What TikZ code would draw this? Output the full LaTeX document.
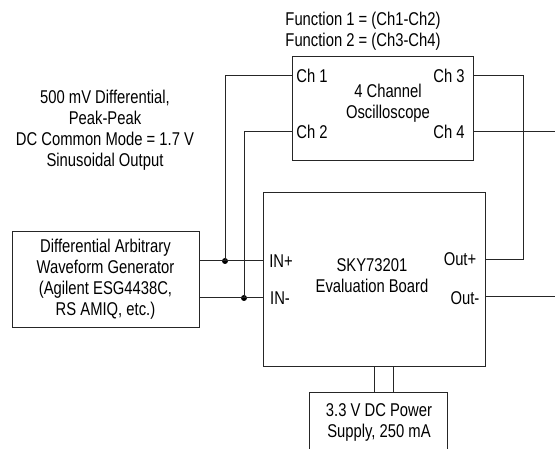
\documentclass[tikz,border=0pt]{standalone}
\usepackage{fontspec}
\setmainfont{Liberation Sans}[FakeStretch=0.8]
\begin{document}
\begin{tikzpicture}[x=1pt,y=-1pt,
  wire/.style={draw=black!85, line width=1pt},
  box/.style={draw=black!85, line width=1pt, inner sep=0pt, outer sep=0pt},
  lbl/.style={font=\fontsize{18.5}{21}\selectfont, align=center, inner sep=0pt},
  jdot/.style={circle, fill=black, inner sep=0pt, minimum size=6pt}]
\path[use as bounding box] (0,0) rectangle (555,449);
\clip (0,0) rectangle (555,449);
% boxes
\node[box, minimum width=181pt, minimum height=104pt] (osc) at (382.5,109) {};
\node[box, minimum width=187pt, minimum height=96pt] (gen) at (105.5,280) {};
\node[box, minimum width=222pt, minimum height=174pt] (eval) at (374,280) {};
\node[box, minimum width=138pt, minimum height=62pt] (psu) at (378,424) {};
% texts
\node[lbl] (ftxt) at (363,31) {Function 1 = (Ch1-Ch2)\\Function 2 = (Ch3-Ch4)};
\node[lbl] (sig) at (105,130) {500 mV Differential,\\Peak-Peak\\DC Common Mode = 1.7 V\\Sinusoidal Output};
\node[lbl] (osct) at (388,103) {4 Channel\\Oscilloscope};
\node[lbl] (l1) at (312,76) {Ch 1};
\node[lbl] (l2) at (312,132) {Ch 2};
\node[lbl] (l3) at (449,76) {Ch 3};
\node[lbl] (l4) at (449,132) {Ch 4};
\node[lbl] (gent) at (105.5,279) {Differential Arbitrary\\Waveform Generator\\(Agilent ESG4438C,\\RS AMIQ, etc.)};
\node[lbl] (evalt) at (372,276) {SKY73201\\Evaluation Board};
\node[lbl] (linp) at (281,261) {IN+};
\node[lbl] (linm) at (280,298) {IN-};
\node[lbl] (loutp) at (460,259) {Out+};
\node[lbl] (loutm) at (465,298) {Out-};
\node[lbl] (psut) at (379,422) {3.3 V DC Power\\Supply, 250 mA};
% ports
\coordinate (ch1) at (292,76);
\coordinate (ch2) at (292,132);
\coordinate (ch3) at (473,76);
\coordinate (ch4) at (473,132);
\coordinate (inp) at (263,261);
\coordinate (inm) at (263,298);
\coordinate (outp) at (485,260);
\coordinate (outm) at (485,297);
\coordinate (genp) at (199,261);
\coordinate (genm) at (199,298);
\coordinate (c3) at (523,76);
\coordinate (e4) at (556,132);
\coordinate (em) at (556,297);
\coordinate (pw1a) at (374,367);
\coordinate (pw1b) at (374,393);
\coordinate (pw2a) at (393,367);
\coordinate (pw2b) at (393,393);
\node[jdot] (j1) at (225,261) {};
\node[jdot] (j2) at (244,298) {};
% wires
\draw[wire] (genp) -- (inp);
\draw[wire] (genm) -- (inm);
\draw[wire] (ch1) -| (j1.center);
\draw[wire] (ch2) -| (j2.center);
\draw[wire] (ch3) -- (c3) |- (outp);
\draw[wire] (ch4) -- (e4);
\draw[wire] (outm) -- (em);
\draw[wire] (pw1a) -- (pw1b);
\draw[wire] (pw2a) -- (pw2b);
\end{tikzpicture}
\end{document}
